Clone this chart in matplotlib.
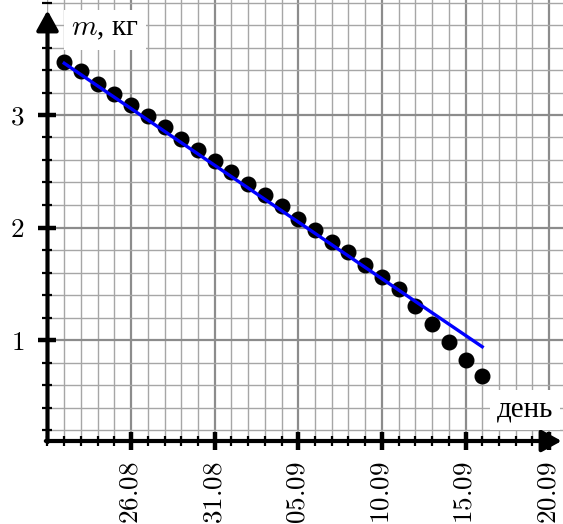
import matplotlib
matplotlib.use("Agg")
import matplotlib.pyplot as plt
from matplotlib.ticker import MultipleLocator, FixedLocator, FixedFormatter

# ---- data ----
days = [1, 2, 3, 4, 5, 6, 7, 8, 9, 10, 11, 12, 13, 14, 15, 16, 17, 18, 19, 20,
        21, 22, 23, 24, 25, 26]
mass = [3.47, 3.39, 3.28, 3.19, 3.09, 2.99, 2.89, 2.79, 2.69, 2.59, 2.49, 2.39,
        2.29, 2.19, 2.08, 1.98, 1.87, 1.78, 1.67, 1.56, 1.45, 1.30, 1.14, 0.98,
        0.82, 0.68]
fit_days = [1, 26]
fit_mass = [3.46, 0.94]
xtick_pos = [5, 10, 15, 20, 25, 30]
xtick_labels = ["26.08", "31.08", "05.09", "10.09", "15.09", "20.09"]
ytick_pos = [1, 2, 3]
ytick_labels = ["1", "2", "3"]
ylabel_text = "$m$, кг"
xlabel_text = "день"

plt.rcParams["mathtext.fontset"] = "cm"
plt.rcParams["font.family"] = ["Liberation Serif", "DejaVu Serif"]

W, H, DPI = 563, 524, 100
fig = plt.figure(figsize=(W / DPI, H / DPI), dpi=DPI)

x0_px, y0_px = 47.5, 441.0
px_per_day, px_per_unit = 16.72, 112.5
ax = fig.add_axes([x0_px / W, (H - y0_px) / H, (W - x0_px) / W, y0_px / H])
xmin, xmax = 0.0, (W - x0_px) / px_per_day
ymin = 1 - (y0_px - 340.0) / px_per_unit
ymax = ymin + y0_px / px_per_unit
ax.set_xlim(xmin, xmax)
ax.set_ylim(ymin, ymax)

# grid
ax.xaxis.set_major_locator(FixedLocator(xtick_pos))
ax.xaxis.set_major_formatter(FixedFormatter(["$%s$" % s for s in xtick_labels]))
ax.xaxis.set_minor_locator(MultipleLocator(1))
ax.yaxis.set_major_locator(FixedLocator(ytick_pos))
ax.yaxis.set_major_formatter(FixedFormatter(["$%s$" % s for s in ytick_labels]))
ax.yaxis.set_minor_locator(MultipleLocator(0.2))
ax.grid(which="major", color="#8c8c8c", linewidth=1.6, zorder=0)
ax.grid(which="minor", color="#a6a6a6", linewidth=1.0, zorder=0)
ax.set_axisbelow(True)

for s in ax.spines.values():
    s.set_visible(False)

ax.tick_params(which="major", direction="inout", length=13, width=3.2,
               color="black", labelsize=19.5)
ax.tick_params(which="minor", direction="inout", length=7, width=1.6,
               color="black")
ax.tick_params(axis="x", which="major", pad=8, labelrotation=90)
ax.tick_params(axis="y", which="major", pad=10)

# axes with arrows
arrow_kw = dict(arrowstyle="-|>,head_length=0.6,head_width=0.33",
                color="black", lw=3, mutation_scale=20, shrinkA=0, shrinkB=0)
ax.annotate("", xy=(30.75, ymin), xytext=(-0.1, ymin),
            arrowprops=arrow_kw, annotation_clip=False, zorder=5)
ax.annotate("", xy=(0, 3.93), xytext=(0, ymin - 0.01),
            arrowprops=arrow_kw, annotation_clip=False, zorder=5)

# data
ax.plot(days, mass, "o", color="black", markersize=10.5, zorder=3)
ax.plot(fit_days, fit_mass, color="#0000ff", linewidth=2.4, zorder=4)

# labels
ax.text(3.45, 3.76, ylabel_text, fontsize=21, ha="center", va="center",
        bbox=dict(facecolor="white", edgecolor="none", pad=5), zorder=6)
ax.text(28.55, 0.38, xlabel_text, fontsize=21, ha="center", va="center",
        bbox=dict(facecolor="white", edgecolor="none", pad=5), zorder=6)

fig.savefig("out.png", dpi=DPI)
